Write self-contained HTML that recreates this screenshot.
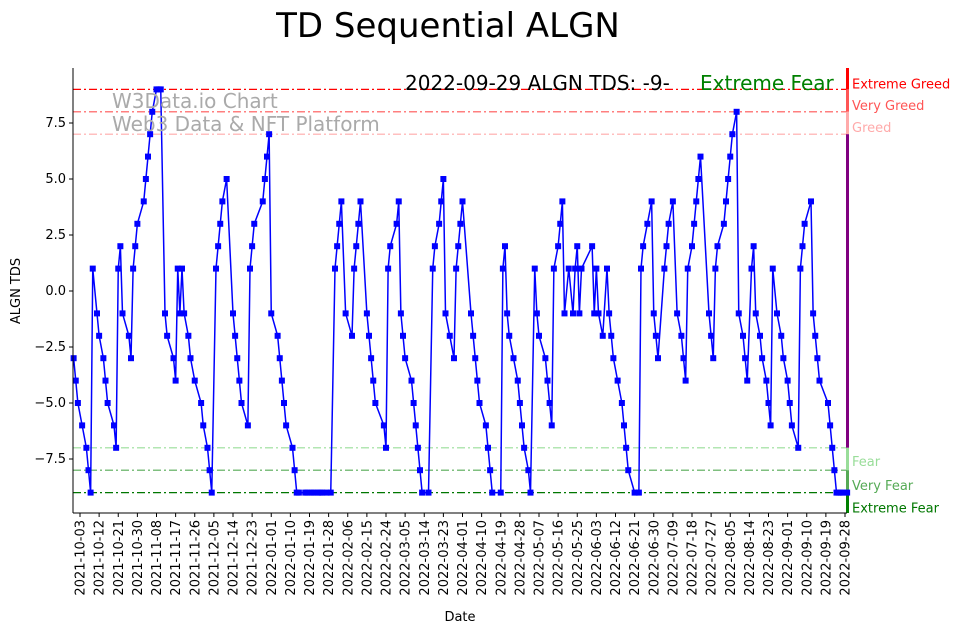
<!DOCTYPE html>
<html><head><meta charset="utf-8"><style>
body{margin:0;background:#fff;}
svg{display:block;font-family:"DejaVu Sans","Liberation Sans",sans-serif;}
</style></head><body>
<svg id="chart" width="967" height="633" xmlns="http://www.w3.org/2000/svg">
<text x="448" y="37" font-size="34" text-anchor="middle">TD Sequential ALGN</text>
<g id="grid"></g>
<g id="series"></g>
<g id="axes"></g>
<text x="112" y="108" font-size="20" fill="#aaaaaa">W3Data.io Chart</text>
<text x="112" y="131" font-size="20" fill="#aaaaaa">Web3 Data &amp; NFT Platform</text>
<text x="405" y="90" font-size="20" fill="#000">2022-09-29 ALGN TDS: -9-</text>
<text x="700" y="90" font-size="20" fill="#008000">Extreme Fear</text>
<text x="460" y="621" font-size="13" text-anchor="middle">Date</text>
<text x="20" y="291" font-size="13" text-anchor="middle" transform="rotate(-90 20 291)">ALGN TDS</text>
</svg>
<script>
const dayOffsets=[-3,-2,-1,1,3,4,5,6,8,9,11,12,13,16,17,18,19,20,23,24,25,26,27,30,31,32,33,34,36,37,38,40,41,44,45,46,47,48,49,51,52,54,57,58,60,61,62,64,65,66,67,69,72,73,74,75,76,79,80,81,82,86,87,88,89,90,93,94,95,96,97,100,101,102,103,106,107,109,110,112,113,114,116,118,120,121,122,123,125,128,129,130,131,132,135,136,137,138,139,143,144,145,146,149,150,151,152,153,156,157,158,159,160,161,164,166,167,169,170,171,172,174,176,177,178,179,180,184,185,186,187,188,191,192,193,194,198,199,200,201,202,204,206,207,208,209,211,212,214,215,216,219,220,221,222,223,225,226,227,228,230,232,233,234,235,236,241,242,243,244,246,248,249,250,251,253,255,256,257,258,261,263,264,265,267,269,270,271,272,275,276,277,279,281,283,284,285,286,288,289,290,291,292,296,297,298,299,300,303,304,305,306,307,309,310,312,313,314,316,317,318,320,321,323,324,325,326,328,330,331,333,334,335,338,339,340,341,344,345,346,347,348,352,353,354,355,356,357,358,359,361];
const tdsValues=[-3,-4,-5,-6,-7,-8,-9,1,-1,-2,-3,-4,-5,-6,-7,1,2,-1,-2,-3,1,2,3,4,5,6,7,8,9,9,9,-1,-2,-3,-4,1,-1,1,-1,-2,-3,-4,-5,-6,-7,-8,-9,1,2,3,4,5,-1,-2,-3,-4,-5,-6,1,2,3,4,5,6,7,-1,-2,-3,-4,-5,-6,-7,-8,-9,-9,-9,-9,-9,-9,-9,-9,-9,-9,-9,1,2,3,4,-1,-2,1,2,3,4,-1,-2,-3,-4,-5,-6,-7,1,2,3,4,-1,-2,-3,-4,-5,-6,-7,-8,-9,-9,1,2,3,4,5,-1,-2,-3,1,2,3,4,-1,-2,-3,-4,-5,-6,-7,-8,-9,-9,1,2,-1,-2,-3,-4,-5,-6,-7,-8,-9,1,-1,-2,-3,-4,-5,-6,1,2,3,4,-1,1,-1,1,2,-1,1,2,-1,1,-1,-2,1,-1,-2,-3,-4,-5,-6,-7,-8,-9,-9,1,2,3,4,-1,-2,-3,1,2,3,4,-1,-2,-3,-4,1,2,3,4,5,6,-1,-2,-3,1,2,3,4,5,6,7,8,-1,-2,-3,-4,1,2,-1,-2,-3,-4,-5,-6,1,-1,-2,-3,-4,-5,-6,-7,1,2,3,4,-1,-2,-3,-4,-5,-6,-7,-8,-9,-9,-9,-9,-9];
const yTicks=[-7.5,-5,-2.5,0,2.5,5,7.5];
const yTickLabels=["−7.5","−5.0","−2.5","0.0","2.5","5.0","7.5"];
const levelValues=[9,8,7,-7,-8,-9];
const levelColors=["#ff0000","#ff5555","#ffaaaa","#99dd99","#55aa55","#007700"];
const levelNames=["Extreme Greed","Very Greed","Greed","Fear","Very Fear","Extreme Fear"];
const startDate=new Date(Date.UTC(2021,9,3));
const tickStepDays=9, tickCount=41;

const NS="http://www.w3.org/2000/svg";
const L=73,R=847,T=68,B=513;
const xS=d=>80+d*2.125;
const yS=v=>291-v*22.4;
const labelShift=[-6,-7,-7,13,15,15];
function mk(tag,attrs,parent){const e=document.createElementNS(NS,tag);for(const k in attrs)e.setAttribute(k,attrs[k]);parent.appendChild(e);return e;}
const grid=document.getElementById('grid'),ser=document.getElementById('series'),ax=document.getElementById('axes');

levelValues.forEach((v,i)=>{
  const ln=mk('line',{x1:L,x2:R,y1:yS(v),y2:yS(v),stroke:levelColors[i],'stroke-width':1.2,'stroke-dasharray':'8,3,2,3'},grid);
  
  
  const t=mk('text',{x:852,y:yS(v)+labelShift[i]+5,'font-size':13,fill:levelColors[i]},grid);
  t.textContent=levelNames[i];
  
  
});
const bands=[[T,yS(9),"#ff0000"],[yS(9),yS(8),"#ff5555"],[yS(8),yS(7),"#ffaaaa"],[yS(7),yS(-7),"#800080"],[yS(-7),yS(-8),"#99dd99"],[yS(-8),yS(-9),"#55aa55"],[yS(-9),B,"#008000"]];
bands.forEach((b,i)=>{
  const r=mk('rect',{x:846,y:b[0],width:3,height:b[1]-b[0],fill:b[2]},grid);
  
  
});

const pts=dayOffsets.map((d,i)=>xS(d)+','+yS(tdsValues[i])).join(' ');
const pl=mk('polyline',{points:pts,fill:'none',stroke:'#0000ff','stroke-width':1.5},ser);


dayOffsets.forEach((d,i)=>{
  const r=mk('rect',{x:xS(d)-3,y:yS(tdsValues[i])-3,width:6,height:6,fill:'#0000ff'},ser);
  
  
});

const ls=mk('line',{x1:L,x2:L,y1:T,y2:B,stroke:'#000','stroke-width':1},ax);


const bs=mk('line',{x1:L,x2:R,y1:B,y2:B,stroke:'#000','stroke-width':1},ax);


yTicks.forEach((v,i)=>{
  mk('line',{x1:L-4,x2:L,y1:yS(v),y2:yS(v),stroke:'#000'},ax);
  const t=mk('text',{x:L-7,y:yS(v)+4,'font-size':13,'text-anchor':'end'},ax);
  t.textContent=yTickLabels[i];
  
  
});
for(let k=0;k<tickCount;k++){
  const d=k*tickStepDays,x=xS(d);
  mk('line',{x1:x,x2:x,y1:B,y2:B+4,stroke:'#000'},ax);
  const dt=new Date(startDate.getTime()+d*86400000);
  const s=dt.getUTCFullYear()+'-'+String(dt.getUTCMonth()+1).padStart(2,'0')+'-'+String(dt.getUTCDate()).padStart(2,'0');
  const t=mk('text',{x:x+4.5,y:B+7,'font-size':13,'text-anchor':'end',transform:`rotate(-90 ${x+4.5} ${B+7})`},ax);
  t.textContent=s;
  
  
}
</script>
</body></html>
